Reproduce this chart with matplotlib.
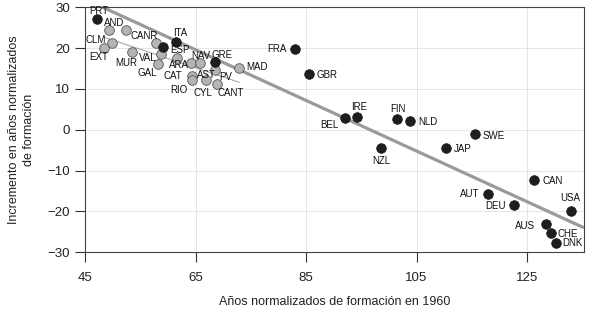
import numpy as np
import matplotlib
matplotlib.use("Agg")
import matplotlib.pyplot as plt

plt.rcParams['font.family'] = ['Liberation Sans', 'DejaVu Sans']

# Countries (dark markers)
countries = ["PRT", "ITA", "ESP", "GRE", "FRA", "GBR", "BEL", "IRE", "FIN", "NLD",
             "SWE", "NZL", "JAP", "CAN", "AUT", "DEU", "USA", "AUS", "CHE", "DNK"]
country_x = [47.1, 61.5, 59.2, 68.6, 83.0, 85.6, 92.1, 94.2, 101.4, 103.8,
             115.5, 98.5, 110.3, 126.3, 117.9, 122.7, 133.0, 128.4, 129.3, 130.2]
country_y = [27.1, 21.4, 20.2, 16.5, 19.8, 13.6, 2.8, 3.1, 2.6, 2.2,
             -1.1, -4.5, -4.5, -12.3, -15.7, -18.3, -19.9, -23.1, -25.2, -27.8]

# Spanish regions (light markers); "" = unlabeled point
regions = ["AND", "CANR", "CLM", "EXT", "MUR", "", "VAL", "GAL", "ARA", "AST",
           "NAV", "PV", "MAD", "CAT", "RIO", "CYL", "CANT"]
region_x = [49.4, 52.4, 49.8, 48.4, 53.5, 57.8, 58.7, 58.3, 61.6, 64.1,
            65.8, 68.5, 72.9, 64.4, 64.4, 66.9, 68.8]
region_y = [24.5, 24.4, 21.3, 20.1, 19.1, 21.2, 18.6, 16.2, 17.5, 16.4,
            16.4, 14.6, 15.1, 13.2, 12.1, 12.2, 11.3]

# Country trend line
trend_x = [45.0, 135.3]
trend_y = [32.0, -24.0]

x_ticks = [45, 65, 85, 105, 125]
y_ticks = [-30, -20, -10, 0, 10, 20, 30]
x_label = "Años normalizados de formación en 1960"
y_label = "Incremento en años normalizados\nde formación"

# label offsets (pixels) from marker centre
country_off = {"PRT": (2, 8), "ITA": (4, 9), "ESP": (16, -3), "GRE": (7, 7),
               "FRA": (-18, 0), "GBR": (18, -1), "BEL": (-16, -7), "IRE": (2, 10),
               "FIN": (1, 10), "NLD": (18, -1), "SWE": (19, -2), "NZL": (1, -13),
               "JAP": (17, -1), "CAN": (18, -1), "AUT": (-18, 0), "DEU": (-19, -1),
               "USA": (-1, 13), "AUS": (-21, -2), "CHE": (17, -1), "DNK": (17, 0)}
region_off = {"AND": (5, 7), "CANR": (18, -6), "CLM": (-16, 3), "EXT": (-5, -9),
              "MUR": (-6, -11), "VAL": (-13, -4), "GAL": (-11, -9), "ARA": (2, -7),
              "AST": (16, -12), "NAV": (1, 7), "PV": (11, -7), "MAD": (18, 1),
              "CAT": (-19, 0), "RIO": (-13, -10), "CYL": (-3, -13), "CANT": (14, -9)}

fig = plt.figure(figsize=(5.89, 3.13), dpi=100)
ax = fig.add_axes([0.1443, 0.194, 0.9915 - 0.1443, 0.9767 - 0.194])
xlim = (45, 135.3)
ax.set_xlim(*xlim)
ax.set_ylim(-30, 30)

# trend lines
ax.plot(trend_x, trend_y, color="#9a9a9a", lw=2.3, zorder=2, solid_capstyle="butt")

rx = np.array(region_x)
ry = np.array(region_y)
pr = np.polyfit(rx, ry, 1)
xr = np.linspace(rx.min(), rx.max(), 20)
ax.plot(xr, np.polyval(pr, xr), color="#a8a8a8", lw=0.8, zorder=2)

ax.scatter(region_x, region_y, s=48, facecolor="#b4b4b4", edgecolor="#555555",
           linewidth=0.6, zorder=3)
ax.scatter(country_x, country_y, s=48, facecolor="#1e1e1e", edgecolor="#111111",
           linewidth=0.5, zorder=4)

for name, x, y in zip(countries, country_x, country_y):
    dx, dy = country_off[name]
    ax.annotate(name, (x, y), xytext=(dx, dy), textcoords="offset pixels",
                ha="center", va="center", fontsize=7, color="#111111", zorder=5)
for name, x, y in zip(regions, region_x, region_y):
    if not name:
        continue
    dx, dy = region_off[name]
    ax.annotate(name, (x, y), xytext=(dx, dy), textcoords="offset pixels",
                ha="center", va="center", fontsize=7, color="#111111", zorder=5)

ax.set_xticks(x_ticks)
ax.set_yticks(y_ticks)
ax.set_yticklabels([str(t).replace("-", "\u2212") for t in y_ticks])
ax.tick_params(axis="both", direction="out", length=7, width=0.8, color="#333333",
               labelsize=9.5, labelcolor="#222222")
ax.tick_params(axis="x", pad=7)
ax.tick_params(axis="y", pad=4)
ax.grid(True, color="#e6e6e6", lw=0.7, zorder=0)
ax.set_axisbelow(True)
for s in ax.spines.values():
    s.set_color("#444444")
    s.set_linewidth(0.8)

ax.set_xlabel(x_label, fontsize=9, color="#222222", labelpad=9)
ax.set_ylabel(y_label, fontsize=9, color="#222222", labelpad=9, linespacing=1.25)

fig.savefig("out.png", dpi=100)
